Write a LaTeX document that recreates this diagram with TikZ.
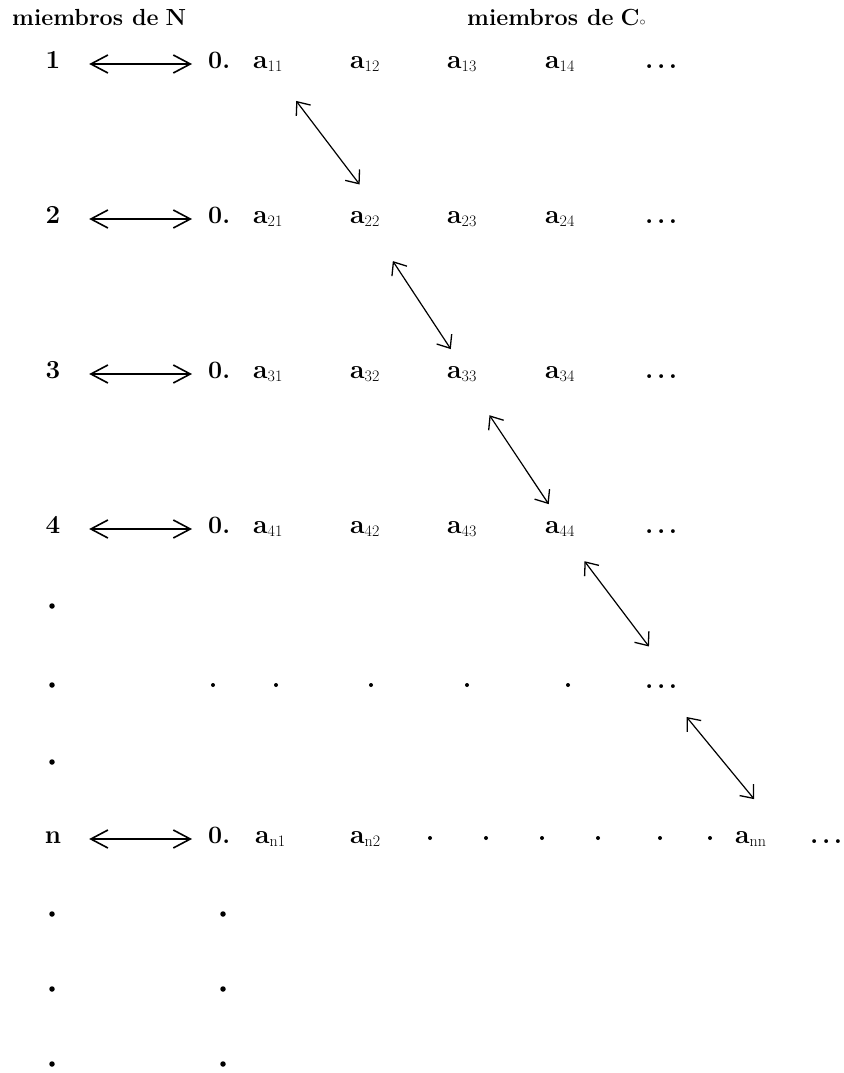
\documentclass[tikz,border=0pt]{standalone}
\usetikzlibrary{arrows.meta,calc}
% bold "a" with a plain, lowered index
\newcommand\elem[1]{\textbf{a}\raisebox{-3pt}{\fontsize{16}{16}\selectfont #1}}
% spaced ellipsis with heavy dots
\newcommand\etc{\textbf{.}\kern3.5pt\textbf{.}\kern3.5pt\textbf{.}}
\begin{document}
\begin{tikzpicture}[x=1pt,y=-1pt,
  head/.style={font=\fontsize{23.3}{28}\selectfont\bfseries, anchor=base west, inner sep=0pt},
  idx/.style={font=\fontsize{26}{30}\selectfont\bfseries, anchor=base, minimum width=70pt,
              inner xsep=0pt, text height=8pt, text depth=0pt},
  zero/.style={font=\fontsize{25}{30}\selectfont\bfseries, anchor=base west, inner xsep=15pt,
               text height=8pt, text depth=0pt},
  ent/.style={font=\fontsize{26.5}{30}\selectfont, anchor=base west, inner sep=0pt},
  pt/.style={circle, fill=black, inner sep=0pt, minimum size=4pt},
  bigpt/.style={pt, minimum size=5.5pt},
  pairing/.style={line width=1.2pt, {Straight Barb[length=17pt,width=18pt,line width=1.6pt,sep=1pt]}-{Straight Barb[length=17pt,width=18pt,line width=1.6pt,sep=1pt]}},
  diag/.style={line width=1.2pt, {Straight Barb[length=11pt,width=18pt,line width=1.3pt,sep=4pt]}-{Straight Barb[length=11pt,width=18pt,line width=1.3pt,sep=4pt]}}
]
\useasboundingbox (0,0) rectangle (843,1073);

% headings
\node[head] (hN) at (12,26) {miembros\hspace{9pt}de\hspace{7pt}N};
\node[head] (hC) at (467,26) {miembros\hspace{9pt}de\hspace{7pt}C\raisebox{0pt}{\fontsize{13}{13}\selectfont$\circ$}};

% rows 1..4
\foreach \r/\b in {1/68, 2/223, 3/378, 4/533} {
  \node[idx] (n\r) at (53,\b) {\r};
  \node[zero] (z\r) at (193,\b) {0.};
  \node[ent] (a\r1) at (253,\b) {\elem{\r1}};
  \node[ent] (a\r2) at (350,\b) {\elem{\r2}};
  \node[ent] (a\r3) at (447,\b) {\elem{\r3}};
  \node[ent] (a\r4) at (545,\b) {\elem{\r4}};
  \node[ent] (e\r) at (645,\b) {\etc};
  \draw[pairing] (n\r) -- (z\r);
}

% vertical dots in the index column
\node[bigpt] (v1) at (52,606) {};
\node[bigpt] (v2) at (52,685) {};
\node[bigpt] (v3) at (52,762) {};

% row of dots
\node[pt] (d1) at (213,685) {};
\node[pt] (d2) at (276,685) {};
\node[pt] (d3) at (371,685) {};
\node[pt] (d4) at (467,685) {};
\node[pt] (d5) at (568,685) {};
\node[ent] (ed) at (645,688) {\etc};

% row n
\node[idx] (nn) at (53,843) {n};
\node[zero] (zn) at (193,843) {0.};
\node[ent] (an1) at (255,843) {\elem{n1}};
\node[ent] (an2) at (350,843) {\elem{n2}};
\node[pt] (m1) at (430,838) {};
\node[pt] (m2) at (486,838) {};
\node[pt] (m3) at (542,838) {};
\node[pt] (m4) at (598,838) {};
\node[pt] (m5) at (660,838) {};
\node[pt] (m6) at (710,838) {};
\node[ent] (ann) at (735,843) {\elem{nn}};
\node[ent] (en) at (810,843) {\etc};
\draw[pairing] (nn) -- (zn);

% trailing dots below
\foreach \y/\k in {914/1, 989/2, 1064/3} {
  \node[bigpt] (l\k) at (52,\y) {};
  \node[bigpt] (r\k) at (223,\y) {};
}

% diagonal correspondences
\draw[diag, shorten <=43pt, shorten >=29pt] (a11.center) -- (a22.north east);
\draw[diag, shorten <=47pt, shorten >=16pt] (a22.center) -- (a33.north);
\draw[diag, shorten <=46pt, shorten >=16pt] (a33.center) -- (a44.north);
\draw[diag, shorten <=37pt, shorten >=43pt] (a44.center) -- (ed.north east);
\draw[diag, shorten <=36pt, shorten >=37pt] (ed.center) -- ($(ann.north east)+(14,0)$);
\end{tikzpicture}
\end{document}
